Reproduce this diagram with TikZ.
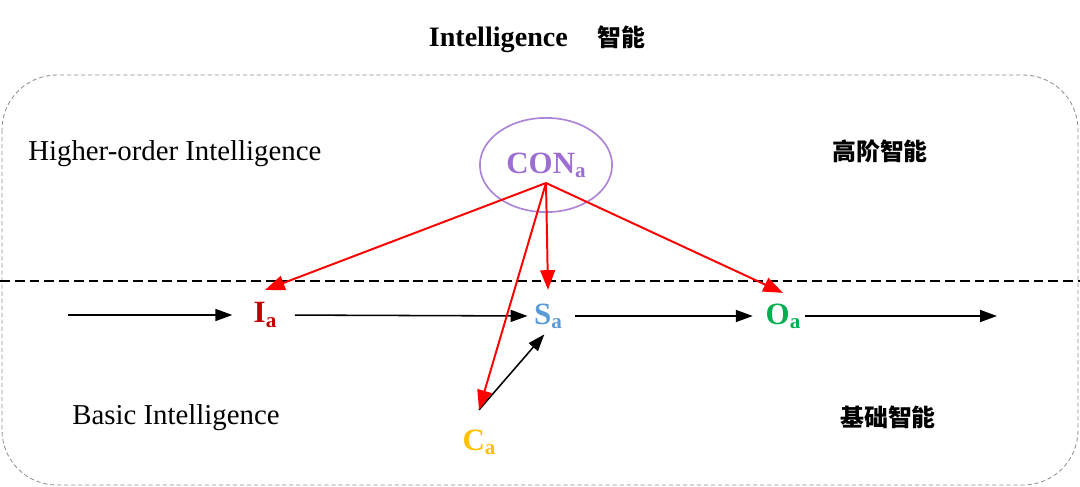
\documentclass[tikz,border=0pt]{standalone}
\usepackage{fontspec}
\setmainfont{Liberation Serif}
\newfontfamily\cjk{Noto Sans CJK SC}
\usepackage{xcolor}
\usepackage{tikz}
\usetikzlibrary{shapes.geometric,arrows.meta,positioning,calc}

\definecolor{ired}{HTML}{C00000}
\definecolor{sblue}{HTML}{5B9BD5}
\definecolor{ogreen}{HTML}{00B050}
\definecolor{cgold}{HTML}{FFC000}
\definecolor{conpurple}{HTML}{9E6FD2}
\definecolor{framegray}{HTML}{909090}

\newcommand{\subl}[2]{#1\raisebox{-3pt}{\fontsize{15pt}{15pt}\selectfont #2}}

\begin{document}
\begin{tikzpicture}[
    x=0.025cm, y=-0.025cm,
    heading/.style={font=\fontsize{20pt}{24pt}\selectfont\bfseries, inner sep=0pt},
    level/.style={font=\fontsize{20.5pt}{24pt}\selectfont, inner sep=0pt, anchor=west},
    cjklevel/.style={font=\fontsize{17pt}{20pt}\selectfont\cjk\bfseries, inner sep=0pt},
    var/.style={font=\fontsize{22pt}{26pt}\selectfont\bfseries, inner sep=1pt},
    flow/.style={-{Triangle[length=12pt,width=8.5pt]}, line width=1.1pt, black},
    focus/.style={-{Triangle[length=14pt,width=10.5pt]}, line width=1.4pt, red}
]
\useasboundingbox (0,0) rectangle (1080,487);

\draw[framegray, line width=0.6pt, dash pattern=on 3pt off 2pt, rounded corners=39pt] (2,75) rectangle (1078,485);
\draw[line width=1.3pt, dash pattern=on 7pt off 3.5pt] (0,281) -- (1080,281);

\node[heading] (title) at (537,39) {Intelligence\hspace{21pt}{\cjk\fontsize{17pt}{20pt}\selectfont 智能}};

\node[level] (higher) at (28,154) {Higher-order Intelligence};
\node[level] (basic) at (72,418) {Basic Intelligence};
\node[cjklevel] (higherzh) at (880,151) {高阶智能};
\node[cjklevel] (basiczh) at (888,417) {基础智能};

\node[ellipse, draw=conpurple!85, line width=1.2pt, minimum width=94pt, minimum height=67pt,
      text=conpurple, font=\fontsize{22pt}{26pt}\selectfont\bfseries] (con) at (546,165) {\subl{CON}{a}};

\node[var, text=ired] (ia) at (265,315) {\subl{I}{a}};
\node[var, text=sblue] (sa) at (548,316) {\subl{S}{a}};
\node[var, text=ogreen] (oa) at (783,316) {\subl{O}{a}};
\node[var, text=cgold] (ca) at (479,442) {\subl{C}{a}};

\coordinate (in) at (68,315);
\coordinate (out) at (997,316);
\coordinate (hub) at ($(con.center)+(0,18)$);
\coordinate (cfork) at ($(ca.north)+(0,-18)$);

\draw[flow, shorten >=14pt] (in) -- (ia.west);
\draw[flow, shorten <=12pt, shorten >=3.5pt] (ia.east) -- (sa.west);
\draw[flow, shorten <=8pt, shorten >=8pt] (sa.east) -- (oa.west);
\draw[flow, shorten <=2pt] (oa.east) -- (out);
\draw[flow, shorten >=4pt] (cfork) -- (sa.south);

\draw[focus] (hub) -- ($(ia.north)+(0,-11)$);
\draw[focus] (hub) -- ($(sa.north)+(0,-12)$);
\draw[focus] (hub) -- ($(oa.north)+(0,-9)$);
\draw[focus] (hub) -- (cfork);

\end{tikzpicture}
\end{document}
